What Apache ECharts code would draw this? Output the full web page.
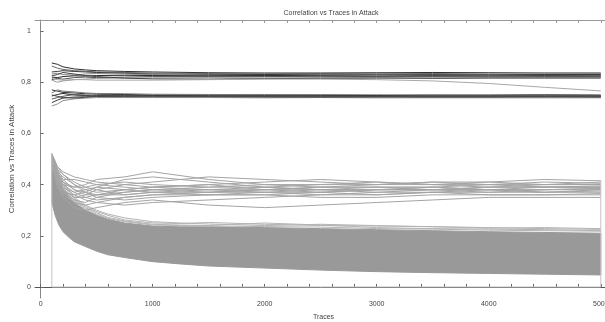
<!DOCTYPE html>
<html>
<head>
<meta charset="utf-8">
<script src="https://cdn.jsdelivr.net/npm/echarts@6/dist/echarts.min.js"></script>
<style>
  html, body { margin: 0; padding: 0; background: #fff; }
  #chart { width: 605px; height: 322px; }
</style>
</head>
<body>
<div id="chart"></div>
<script>
// tick labels
var xLabels = [0, 1000, 2000, 3000, 4000, 5000]
var xTicks = [0, 200, 400, 600, 800, 1000, 1200, 1400, 1600, 1800, 2000, 2200, 2400, 2600, 2800, 3000,
  3200, 3400, 3600, 3800, 4000, 4200, 4400, 4600, 4800, 5000]
var yTicks = [0, 0.2, 0.4, 0.6, 0.8, 1]

// dense band of wrong-key traces (lower / upper envelope)
var bandTraces = [100, 130, 160, 200, 250, 300, 400, 500, 600, 750, 1000, 1250, 1500, 2000, 2500, 3000, 3500, 4000, 4500, 5000]
var bandLow = [0.33, 0.28, 0.245, 0.216, 0.195, 0.177, 0.158, 0.14, 0.126, 0.115, 0.099, 0.09, 0.082, 0.074, 0.066, 0.06, 0.056, 0.053, 0.05, 0.047]
var bandHigh = [0.52, 0.46, 0.42, 0.385, 0.355, 0.33, 0.30, 0.28, 0.265, 0.25, 0.238, 0.235, 0.235, 0.232, 0.228, 0.224, 0.22, 0.216, 0.213, 0.21]
var bandFringe = [
  [0.52, 0.47, 0.43, 0.40, 0.37, 0.345, 0.315, 0.295, 0.28, 0.262, 0.25, 0.248, 0.252, 0.245, 0.24, 0.238, 0.236, 0.232, 0.228, 0.225],
  [0.51, 0.45, 0.425, 0.39, 0.36, 0.34, 0.31, 0.29, 0.272, 0.258, 0.245, 0.242, 0.24, 0.25, 0.242, 0.232, 0.228, 0.226, 0.224, 0.22],
  [0.52, 0.48, 0.44, 0.41, 0.38, 0.35, 0.32, 0.30, 0.285, 0.27, 0.255, 0.25, 0.246, 0.24, 0.245, 0.24, 0.235, 0.23, 0.232, 0.228],
  [0.50, 0.44, 0.41, 0.38, 0.35, 0.335, 0.305, 0.285, 0.268, 0.255, 0.242, 0.24, 0.238, 0.236, 0.234, 0.228, 0.226, 0.222, 0.22, 0.218]
]

// middle cluster
var midTraces = [100, 150, 200, 300, 400, 500, 750, 1000, 1500, 2000, 2500, 3000, 3500, 4000, 4500, 5000]
var midLines = [
  [0.52, 0.47, 0.45, 0.43, 0.42, 0.41, 0.40, 0.39, 0.40, 0.41, 0.42, 0.41, 0.40, 0.41, 0.42, 0.415],
  [0.51, 0.44, 0.41, 0.39, 0.40, 0.42, 0.43, 0.45, 0.42, 0.40, 0.39, 0.40, 0.41, 0.40, 0.40, 0.41],
  [0.50, 0.42, 0.38, 0.35, 0.36, 0.38, 0.40, 0.41, 0.43, 0.42, 0.41, 0.40, 0.40, 0.39, 0.40, 0.40],
  [0.52, 0.45, 0.43, 0.40, 0.38, 0.37, 0.38, 0.39, 0.38, 0.38, 0.39, 0.39, 0.38, 0.39, 0.39, 0.395],
  [0.49, 0.40, 0.36, 0.33, 0.32, 0.33, 0.35, 0.36, 0.37, 0.38, 0.38, 0.37, 0.38, 0.38, 0.38, 0.385],
  [0.51, 0.46, 0.44, 0.41, 0.39, 0.38, 0.36, 0.37, 0.38, 0.39, 0.38, 0.38, 0.39, 0.38, 0.37, 0.38],
  [0.50, 0.43, 0.40, 0.37, 0.35, 0.34, 0.35, 0.36, 0.36, 0.37, 0.37, 0.36, 0.37, 0.37, 0.37, 0.375],
  [0.48, 0.39, 0.35, 0.31, 0.30, 0.31, 0.33, 0.34, 0.32, 0.31, 0.32, 0.33, 0.34, 0.35, 0.35, 0.35],
  [0.52, 0.44, 0.42, 0.42, 0.41, 0.40, 0.39, 0.38, 0.37, 0.37, 0.38, 0.39, 0.39, 0.40, 0.39, 0.39],
  [0.51, 0.45, 0.41, 0.38, 0.37, 0.36, 0.37, 0.38, 0.39, 0.40, 0.40, 0.41, 0.40, 0.40, 0.41, 0.405],
  [0.50, 0.41, 0.37, 0.34, 0.33, 0.35, 0.37, 0.38, 0.38, 0.37, 0.36, 0.36, 0.37, 0.36, 0.36, 0.365],
  [0.49, 0.42, 0.39, 0.37, 0.38, 0.39, 0.38, 0.37, 0.36, 0.36, 0.37, 0.38, 0.38, 0.37, 0.38, 0.38],
  [0.52, 0.47, 0.44, 0.40, 0.37, 0.35, 0.34, 0.35, 0.36, 0.36, 0.35, 0.35, 0.36, 0.36, 0.36, 0.36],
  [0.50, 0.43, 0.39, 0.36, 0.34, 0.33, 0.32, 0.33, 0.34, 0.35, 0.36, 0.37, 0.37, 0.38, 0.37, 0.37],
  [0.51, 0.44, 0.40, 0.39, 0.39, 0.40, 0.41, 0.40, 0.39, 0.39, 0.40, 0.40, 0.41, 0.41, 0.40, 0.40],
  [0.49, 0.40, 0.37, 0.36, 0.37, 0.39, 0.42, 0.43, 0.41, 0.39, 0.38, 0.38, 0.38, 0.39, 0.39, 0.39],
  [0.52, 0.46, 0.42, 0.38, 0.36, 0.36, 0.36, 0.37, 0.37, 0.38, 0.39, 0.39, 0.39, 0.38, 0.38, 0.385],
  [0.50, 0.42, 0.38, 0.35, 0.35, 0.36, 0.38, 0.39, 0.40, 0.38, 0.37, 0.38, 0.38, 0.38, 0.39, 0.39]
]

// upper cluster (correct-key candidates)
var topTraces = [100, 150, 200, 300, 400, 500, 750, 1000, 1500, 2000, 2500, 3000, 3500, 4000, 4500, 5000]
var topLines = [
  [0.875, 0.87, 0.86, 0.852, 0.848, 0.845, 0.842, 0.84, 0.837, 0.836, 0.836, 0.837, 0.838, 0.837, 0.836, 0.836],
  [0.863, 0.855, 0.85, 0.845, 0.843, 0.84, 0.838, 0.836, 0.834, 0.833, 0.834, 0.835, 0.834, 0.832, 0.831, 0.832],
  [0.84, 0.842, 0.845, 0.842, 0.84, 0.838, 0.835, 0.832, 0.83, 0.83, 0.831, 0.83, 0.83, 0.829, 0.83, 0.83],
  [0.832, 0.835, 0.83, 0.828, 0.832, 0.834, 0.832, 0.83, 0.828, 0.826, 0.827, 0.828, 0.827, 0.826, 0.826, 0.826],
  [0.82, 0.818, 0.822, 0.825, 0.824, 0.826, 0.827, 0.826, 0.825, 0.826, 0.825, 0.824, 0.825, 0.824, 0.825, 0.824],
  [0.81, 0.815, 0.812, 0.818, 0.82, 0.818, 0.82, 0.822, 0.822, 0.822, 0.823, 0.822, 0.822, 0.821, 0.822, 0.822],
  [0.808, 0.8, 0.805, 0.81, 0.812, 0.815, 0.816, 0.817, 0.818, 0.817, 0.818, 0.818, 0.817, 0.818, 0.818, 0.818],
  [0.825, 0.83, 0.838, 0.832, 0.826, 0.822, 0.816, 0.813, 0.812, 0.814, 0.815, 0.816, 0.815, 0.816, 0.816, 0.816],
  [0.815, 0.81, 0.808, 0.81, 0.81, 0.808, 0.808, 0.808, 0.81, 0.812, 0.812, 0.81, 0.805, 0.795, 0.78, 0.766],
  [0.77, 0.765, 0.76, 0.758, 0.755, 0.753, 0.752, 0.75, 0.75, 0.749, 0.75, 0.749, 0.75, 0.75, 0.751, 0.75],
  [0.758, 0.77, 0.765, 0.762, 0.758, 0.756, 0.755, 0.753, 0.752, 0.752, 0.751, 0.75, 0.749, 0.748, 0.749, 0.748],
  [0.746, 0.752, 0.756, 0.75, 0.748, 0.748, 0.749, 0.748, 0.747, 0.746, 0.747, 0.747, 0.746, 0.746, 0.746, 0.746],
  [0.734, 0.74, 0.745, 0.752, 0.75, 0.747, 0.745, 0.745, 0.745, 0.744, 0.744, 0.744, 0.744, 0.744, 0.743, 0.744],
  [0.72, 0.73, 0.738, 0.742, 0.743, 0.744, 0.743, 0.742, 0.742, 0.742, 0.741, 0.742, 0.741, 0.741, 0.742, 0.741],
  [0.707, 0.715, 0.728, 0.735, 0.738, 0.74, 0.74, 0.74, 0.74, 0.739, 0.74, 0.739, 0.739, 0.739, 0.739, 0.739],
  [0.75, 0.745, 0.74, 0.738, 0.741, 0.745, 0.747, 0.746, 0.744, 0.743, 0.742, 0.743, 0.743, 0.743, 0.744, 0.743]
]
var topColors = ['#2e2e2e', '#6a6a6a', '#3c3c3c', '#8a8a8a', '#2a2a2a', '#555555', '#9a9a9a', '#444444', '#a8a8a8',
  '#333333', '#7a7a7a', '#2a2a2a', '#5a5a5a', '#3a3a3a', '#8c8c8c', '#4a4a4a']

// outline of the trace range (first / last trace, zero level)
var frameTraces = [100, 100, 5000, 5000]
var frameValues = [0.52, 0, 0, 0.418]

var font = '"Liberation Sans Narrow", "Liberation Sans", Arial, sans-serif'

function pairs(xs, ys) {
    return xs.map(function (x, i) { return [x, ys[i]] })
}

function plainLine(xs, ys, color, z) {
    return {
        type: 'line',
        data: pairs(xs, ys),
        symbol: 'none',
        silent: true,
        z: z,
        lineStyle: { color: color, width: 1 }
    }
}

var series = []
// filled band between the two envelopes
series.push({
    type: 'custom',
    silent: true,
    z: 1,
    data: bandTraces.map(function (t, i) { return [t, bandLow[i], bandHigh[i]] }),
    encode: { x: 0, y: [1, 2] },
    renderItem: function (params, api) {
        if (params.dataIndex !== 0) return
        var pts = []
        for (var i = 0; i < bandTraces.length; i++) pts.push(api.coord([bandTraces[i], bandHigh[i]]))
        for (var j = bandTraces.length - 1; j >= 0; j--) pts.push(api.coord([bandTraces[j], bandLow[j]]))
        return {
            type: 'polygon',
            shape: { points: pts },
            style: { fill: '#999999', stroke: '#999999', lineWidth: 1 }
        }
    }
})
bandFringe.forEach(function (ys) { series.push(plainLine(bandTraces, ys, '#b4b4b4', 2)) })
midLines.forEach(function (ys) { series.push(plainLine(midTraces, ys, '#a4a4a4', 2)) })
topLines.forEach(function (ys, i) { series.push(plainLine(topTraces, ys, topColors[i], 3)) })
series.push(plainLine(frameTraces, frameValues, '#c4c4c4', 4))

var chart = echarts.init(document.getElementById('chart'), null, { renderer: 'canvas' })
chart.setOption({
    animation: false,
    backgroundColor: '#ffffff',
    textStyle: { fontFamily: font },
    title: {
        text: 'Correlation vs Traces in Attack',
        left: 326,
        top: 5,
        textAlign: 'center',
        textStyle: { fontSize: 7, fontWeight: 'normal', color: '#444', fontFamily: font }
    },
    grid: { left: 35, top: 20, right: -7, bottom: 24, containLabel: false, outerBoundsMode: 'none' },
    xAxis: [{
        type: 'value', position: 'bottom', min: -50, max: 5100,
        name: 'Traces', nameLocation: 'middle', nameGap: 16,
        nameTextStyle: { fontSize: 7, color: '#444', fontFamily: font },
        axisLine: { show: true, lineStyle: { color: '#555', width: 1 } },
        axisTick: { show: true, inside: true, length: 3, customValues: xTicks, lineStyle: { color: '#666' } },
        axisLabel: {
            show: true, customValues: xLabels, fontSize: 7, color: '#444', margin: 3, fontFamily: font,
            formatter: function (v) { return String(v) }
        },
        splitLine: { show: false }
    }, {
        type: 'value', position: 'top', min: -50, max: 5100,
        axisLine: { show: true, lineStyle: { color: '#999', width: 1 } },
        axisTick: { show: true, inside: true, length: 3, customValues: xTicks, lineStyle: { color: '#999' } },
        axisLabel: { show: false },
        splitLine: { show: false }
    }],
    yAxis: [{
        type: 'value', position: 'left', min: -0.043, max: 1.043,
        name: 'Correlation vs Traces in Attack', nameLocation: 'middle', nameGap: 19, nameRotate: 90,
        nameMoveOverlap: false,
        nameTextStyle: { fontSize: 8, color: '#444', fontFamily: font },
        axisLine: { show: true, lineStyle: { color: '#888', width: 1 } },
        axisTick: { show: true, inside: true, length: 3, customValues: yTicks, lineStyle: { color: '#666' } },
        axisLabel: {
            show: true, customValues: yTicks, fontSize: 7, color: '#444', margin: 4, fontFamily: font,
            formatter: function (v) { return String(v).replace('.', ',') }
        },
        splitLine: { show: false }
    }],
    series: series
})
</script>
</body>
</html>
